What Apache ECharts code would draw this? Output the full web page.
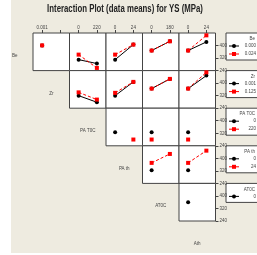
<!DOCTYPE html>
<html><head><meta charset="utf-8">
<script src="https://cdn.jsdelivr.net/npm/echarts@6/dist/echarts.min.js"></script>
<style>html,body{margin:0;padding:0;background:#fff}#c{width:257px;height:255px}</style>
</head><body><div id="c"></div>
<script>
const titleText = 'Interaction Plot (data means) for YS (MPa)';
const factors = ['Be', 'Zr', 'PA T0C', 'PA th', 'AT0C', 'Ath'];
const levels = [['0.000', '0.024'], ['0.001', '0.125'], ['0', '220'], ['0', '24'], ['0', '180'], ['0', '24']];
const topTickLabels = [['0.001', ''], ['0', '220'], ['0', '24'], ['0', '180'], ['0', '24']];
const yTicks = [240, 320, 400, 480];
const legendLevels = [['0.000', '0.024'], ['0.001', '0.125'], ['0', '220'], ['0', '24'], ['0']];

// Means: rows = trace factor, inner pairs = x factor levels (low, high)
const beBlack   = [[401, null], [310, 285], [310, 406], [368, 427], [368, 423]]; // vs Zr, PA T0C, PA th, AT0C, Ath
const beRed     = [[401, null], [342, 257], [342, 406], [368, 427], [368, 465]];
const zrBlack   = [[320, 278], [320, 408], [365, 427], [365, 448]];             // vs PA T0C, PA th, AT0C, Ath
const zrRed     = [[341, 295], [338, 408], [365, 427], [365, 469]];
const patcBlack = [[326, null], [326, null], [326, null]];                       // vs PA th, AT0C, Ath
const patcRed   = [[null, 280], [280, null], [280, null]];
const pathBlack = [[324, null], [324, null]];                                    // vs AT0C, Ath
const pathRed   = [[371, 428], [371, 449]];
const atcBlack  = [[359, null]];                                                 // vs Ath
const atcRed    = [];

const blackRows = [beBlack, zrBlack, patcBlack, pathBlack, atcBlack];
const redRows = [beRed, zrRed, patcRed, pathRed, atcRed];

const X0 = 33, Y0 = 33, CW = 36.5, RH = 37.6;
const FONT = 'Liberation Sans, Arial, sans-serif';
const grids = [], xAxes = [], yAxes = [], series = [], graphics = [];

graphics.push({type: 'rect', shape: {x: 11, y: 0, width: 246, height: 253}, style: {fill: '#EEEBE0'}, z: -10});
graphics.push({type: 'text', x: 125, y: 9, scaleX: 0.71, originX: 0, originY: 0,
  style: {text: titleText, fontSize: 11, fontWeight: 'bold', fill: '#222', align: 'center',
    verticalAlign: 'middle', fontFamily: FONT}});

let gi = 0;
for (let r = 0; r < 5; r++) {
  for (let c = r; c < 5; c++) {
    grids.push({left: X0 + c * CW, top: Y0 + r * RH, width: CW, height: RH,
      show: true, backgroundColor: '#fff', borderColor: '#444', borderWidth: 1});
    xAxes.push({type: 'category', gridIndex: gi, data: levels[c + 1], boundaryGap: true,
      position: 'top', show: r === 0,
      axisLine: {show: false},
      axisTick: {show: true, alignWithLabel: true, length: 3, inside: false, lineStyle: {color: '#444'}},
      axisLabel: {show: true, fontSize: 4.5, color: '#444', margin: 3, fontFamily: FONT,
        formatter: (v, i) => topTickLabels[c][i]}});
    yAxes.push({type: 'value', gridIndex: gi, min: yTicks[0], max: yTicks[yTicks.length - 1], interval: 80,
      position: 'right', show: c === 4,
      splitLine: {show: false}, axisLine: {show: false},
      axisTick: {show: true, length: 3, lineStyle: {color: '#444'}},
      axisLabel: {show: true, fontSize: 4.5, color: '#444', margin: 4, fontFamily: FONT, showMaxLabel: false}});
    const k = c - r;
    if (blackRows[r][k]) series.push({type: 'line', xAxisIndex: gi, yAxisIndex: gi, data: blackRows[r][k],
      symbol: 'circle', symbolSize: 4, showSymbol: true, color: '#000', connectNulls: false, silent: true,
      lineStyle: {color: '#000', width: 1}, itemStyle: {color: '#000'}, z: 2, animation: false});
    if (redRows[r][k]) series.push({type: 'line', xAxisIndex: gi, yAxisIndex: gi, data: redRows[r][k],
      symbol: 'rect', symbolSize: 4, showSymbol: true, color: '#f00', connectNulls: false, silent: true,
      lineStyle: {color: '#f00', width: 1, type: [3, 2]}, itemStyle: {color: '#f00'}, z: 3, animation: false});
    gi++;
  }
}
// diagonal factor labels
factors.forEach((f, i) => {
  graphics.push({type: 'text', x: X0 + (i - 1) * CW + CW / 2, y: Y0 + i * RH + RH / 2 + 4,
    style: {text: f, fontSize: 4.5, fill: '#444', align: 'center', verticalAlign: 'middle', fontFamily: FONT}});
});
// legends
legendLevels.forEach((lv, r) => {
  const top = Y0 + r * RH;
  const h = lv.length === 2 ? 27 : 19;
  graphics.push({type: 'rect', shape: {x: 226, y: top, width: 40, height: h},
    style: {fill: '#fff', stroke: '#444', lineWidth: 1}});
  graphics.push({type: 'text', x: 255, y: top + 6, style: {text: factors[r], fontSize: 4.5, fill: '#444',
    align: 'right', verticalAlign: 'middle', fontFamily: FONT}});
  lv.forEach((name, j) => {
    const yy = top + 13 + j * 8;
    const col = j === 0 ? '#000' : '#f00';
    graphics.push({type: 'line', shape: {x1: 229, y1: yy, x2: 239, y2: yy}, style: {stroke: col, lineWidth: 1}});
    if (j === 0) graphics.push({type: 'circle', shape: {cx: 234, cy: yy, r: 2}, style: {fill: col}});
    else graphics.push({type: 'rect', shape: {x: 232, y: yy - 2, width: 4, height: 4}, style: {fill: col}});
    graphics.push({type: 'text', x: 256, y: yy, style: {text: name, fontSize: 4.5, fill: '#444',
      align: 'right', verticalAlign: 'middle', fontFamily: FONT}});
  });
});

const chart = echarts.init(document.getElementById('c'), null, {renderer: 'canvas'});
chart.setOption({
  animation: false,
  backgroundColor: '#fff',
  grid: grids, xAxis: xAxes, yAxis: yAxes, series: series, graphic: graphics
});
</script></body></html>
